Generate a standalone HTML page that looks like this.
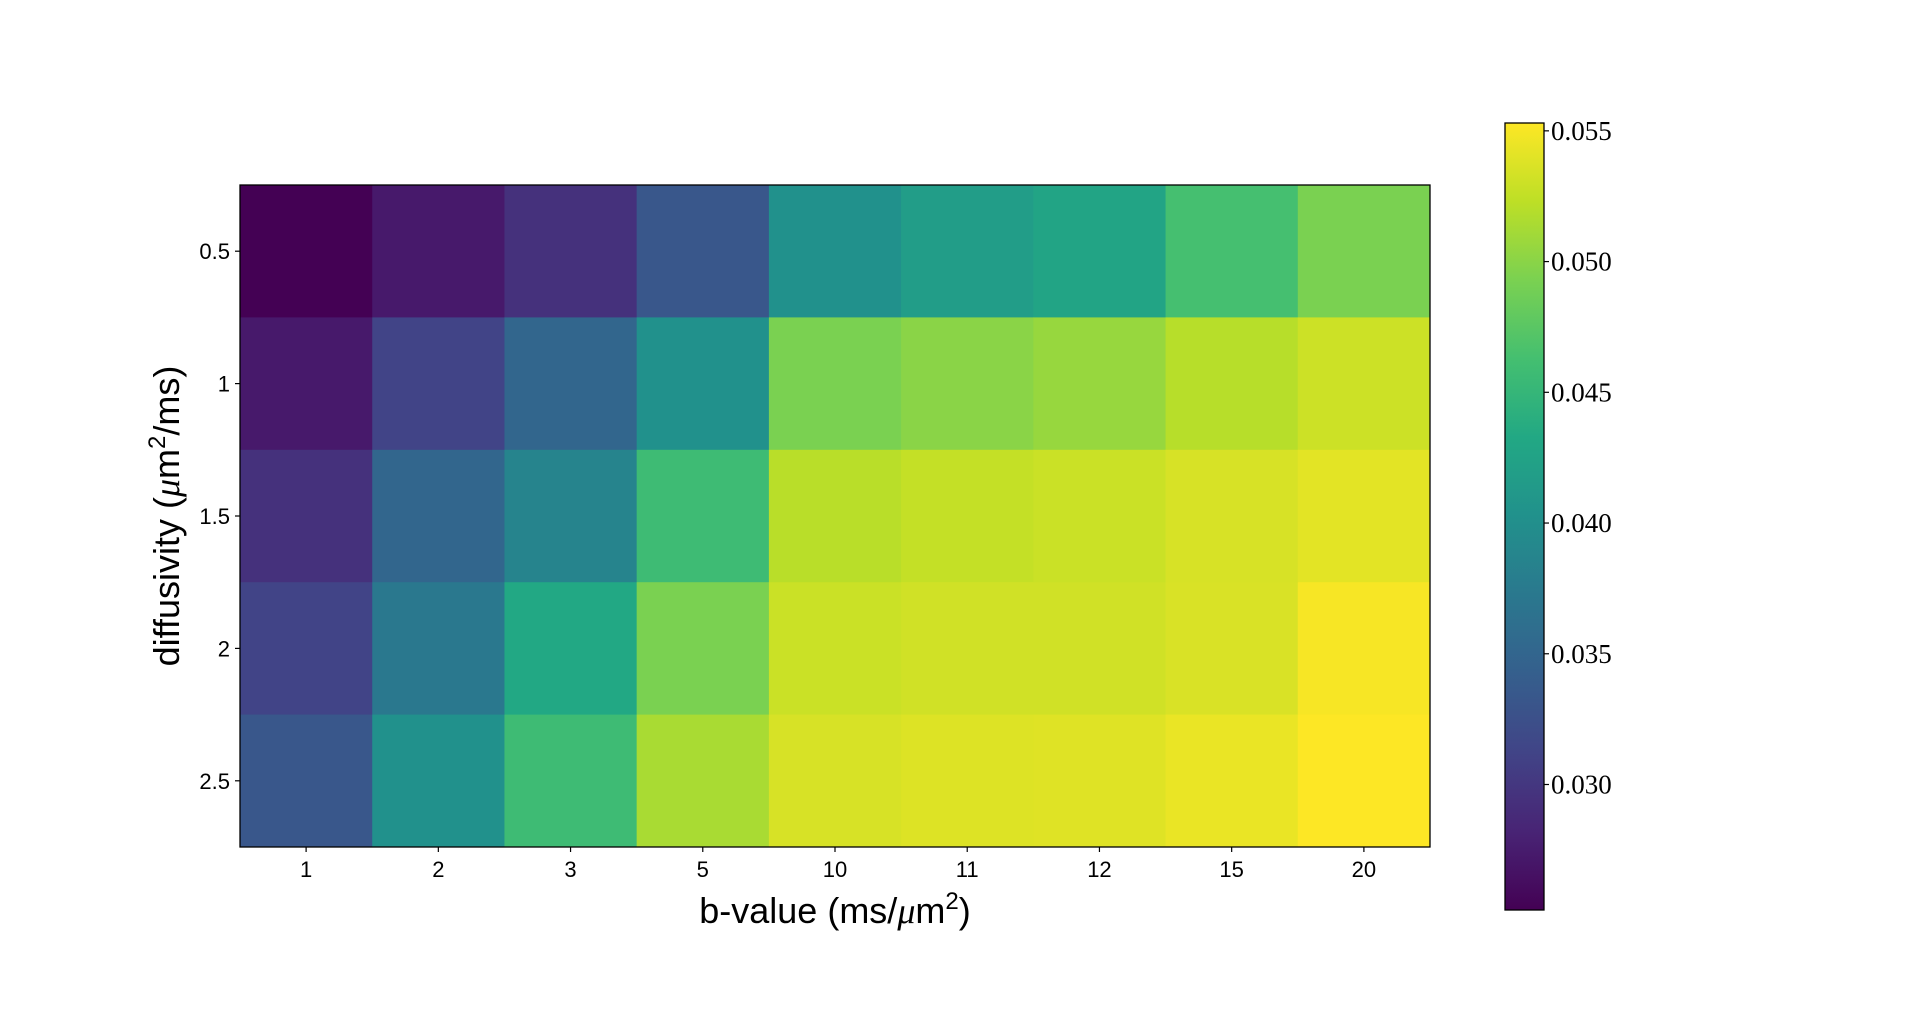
<!DOCTYPE html>
<html><head><meta charset="utf-8"><style>
body{margin:0;background:#fff;}
svg{display:block;}
.sans{font-family:"Liberation Sans","DejaVu Sans",sans-serif;}
.serif{font-family:"Liberation Serif","DejaVu Serif",serif;}
</style></head><body>
<svg id="chart" width="1920" height="1022">
<defs><linearGradient id="vir" x1="0" y1="1" x2="0" y2="0"></linearGradient></defs>
<g id="cells"></g>
<rect x="240" y="185" width="1190" height="662" fill="none" stroke="#000" stroke-width="1.3"/>
<g id="xt"></g>
<g id="yt"></g>
<text class="sans" x="835" y="923" font-size="36" text-anchor="middle">b-value (ms/<tspan class="serif" font-style="italic">μ</tspan>m<tspan font-size="24" dy="-14">2</tspan><tspan dy="14">)</tspan></text>
<text class="sans" transform="translate(179,516) rotate(-90)" font-size="36" text-anchor="middle">diffusivity (<tspan class="serif" font-style="italic">μ</tspan>m<tspan font-size="24" dy="-14">2</tspan><tspan dy="14">/ms)</tspan></text>
<rect x="1505" y="123" width="39" height="787" fill="url(#vir)" stroke="#000" stroke-width="1.3"/>
<g id="ct"></g>
</svg>
<script>
const xLabels=["1","2","3","5","10","11","12","15","20"];
const yLabels=["0.5","1","1.5","2","2.5"];
const row05=[0.0252,0.0273,0.0294,0.0333,0.0403,0.0418,0.0427,0.0463,0.0493];
const row10=[0.0273,0.0312,0.0351,0.0403,0.0493,0.0500,0.0506,0.0520,0.0530];
const row15=[0.0294,0.0351,0.0387,0.0457,0.0521,0.0526,0.0529,0.0535,0.0541];
const row20=[0.0312,0.0372,0.0433,0.0493,0.0529,0.0532,0.0532,0.0536,0.0550];
const row25=[0.0333,0.0403,0.0457,0.0514,0.0535,0.0538,0.0539,0.0544,0.0553];
const cbTicks=[0.030,0.035,0.040,0.045,0.050,0.055];
const vmin=0.0252, vmax=0.0553;
const rows=[row05,row10,row15,row20,row25];
const VIR=["#440154","#482475","#414487","#355f8d","#2a788e","#21918c","#22a884","#44bf70","#7ad151","#bddf26","#fde725"];
function hex(h){return [1,3,5].map(i=>parseInt(h.substr(i,2),16));}
function viridis(t){t=Math.max(0,Math.min(1,t));const p=t*10,i=Math.min(9,Math.floor(p)),f=p-i;const a=hex(VIR[i]),b=hex(VIR[i+1]);return "rgb("+a.map((v,k)=>Math.round(v+(b[k]-v)*f)).join(",")+")";}
const X0=240,Y0=185,W=1190,H=662;
const cw=W/xLabels.length, ch=H/yLabels.length;
const xPos=i=>X0+i*cw, yPos=j=>Y0+j*ch;
const cbY=v=>910-(v-vmin)/(vmax-vmin)*787;
const NS="http://www.w3.org/2000/svg";
function mk(tag,attrs,parent){const e=document.createElementNS(NS,tag);for(const k in attrs)e.setAttribute(k,attrs[k]);parent.appendChild(e);return e;}
const cells=document.getElementById('cells');
rows.forEach((r,j)=>r.forEach((v,i)=>{
 const c=mk('rect',{x:xPos(i),y:yPos(j),width:cw+0.5,height:ch+0.5,fill:viridis((v-vmin)/(vmax-vmin))},cells);
 
 
}));
const xt=document.getElementById('xt');
xLabels.forEach((l,i)=>{const x=xPos(i)+cw/2;
 mk('line',{x1:x,x2:x,y1:847,y2:852,stroke:'#000','stroke-width':1.2},xt);
 const t=mk('text',{x:x,y:877,'font-size':22,'text-anchor':'middle',class:'sans'},xt);t.textContent=l;
 
 });
const yt=document.getElementById('yt');
yLabels.forEach((l,j)=>{const y=yPos(j)+ch/2;
 mk('line',{x1:235,x2:240,y1:y,y2:y,stroke:'#000','stroke-width':1.2},yt);
 const t=mk('text',{x:230,y:y+8,'font-size':22,'text-anchor':'end',class:'sans'},yt);t.textContent=l;
 
 });
const g=document.getElementById('vir');
for(let k=0;k<=20;k++){const t=k/20;mk('stop',{offset:t,'stop-color':viridis(t)},g);}
const ct=document.getElementById('ct');
cbTicks.forEach(v=>{const y=cbY(v);
 mk('line',{x1:1544,x2:1549,y1:y,y2:y,stroke:'#000','stroke-width':1.2},ct);
 const t=mk('text',{x:1551,y:y+9,'font-size':27,class:'serif'},ct);t.textContent=v.toFixed(3);
 
 });
</script>
</body></html>
